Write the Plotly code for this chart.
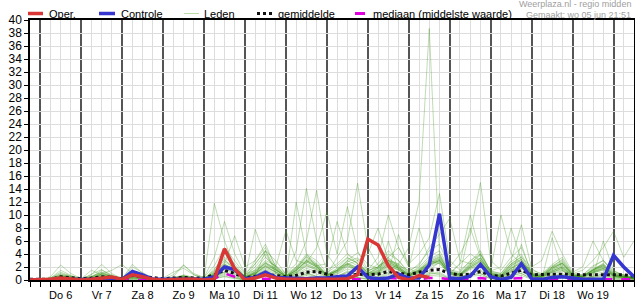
import plotly.graph_objects as go
import pandas as pd

# ---------------- data ----------------
times = pd.date_range("2024-06-05 18:00", "2024-06-20 12:00", freq="6h")

day_labels = ["Do 6", "Vr 7", "Za 8", "Zo 9", "Ma 10", "Di 11", "Wo 12",
              "Do 13", "Vr 14", "Za 15", "Zo 16", "Ma 17", "Di 18", "Wo 19"]
day_label_pos = pd.date_range("2024-06-06 12:00", periods=14, freq="1D")
day_starts = pd.date_range("2024-06-06 00:00", periods=15, freq="1D")

oper = [0, 0, 0.1, 0.3, 0.2, 0.0, 0.1, 0.3, 0.45, 0.1, 0.8, 0.5, 0.1,
        0.0, 0.1, 0.1, 0.1, 0.0, 0.1, 4.8, 1.7, 0.0, 0.3, 0.8, 0.3,
        0.1, 0.1, 0.1, 0.1, 0.0, 0.1, 0.2, 0.8, 6.3, 5.4, 2.2, 0.4,
        0.0, 0.7, 0.4]

controle = [0, 0, 0.1, 0.1, 0.1, 0.0, 0.1, 0.2, 0.1, 0.1, 1.3, 0.8, 0.1,
            0.1, 0.1, 0.1, 0.1, 0.1, 0.5, 2.0, 1.6, 0.2, 0.4, 1.2, 0.4,
            0.3, 0.3, 0.2, 0.3, 0.3, 0.5, 0.6, 2.0, 0.4, 0.2, 0.3, 0.9,
            0.3, 0.3, 2.3, 10.2, 0.3, 0.2, 0.6, 2.4, 0.5, 0.1, 0.4, 2.5,
            0.2, 0.1, 0.4, 0.5, 0.3, 0.1, 0.1, 0.1, 3.8, 2.0, 0.5]

gemiddelde = [0.1, 0.1, 0.1, 0.5, 0.4, 0.2, 0.3, 0.5, 0.4, 0.2, 0.7, 0.5, 0.3,
              0.2, 0.3, 0.4, 0.3, 0.3, 0.8, 1.5, 1.0, 0.3, 0.6, 0.9, 0.7,
              0.5, 0.7, 1.2, 1.3, 0.9, 0.5, 0.6, 0.9, 0.8, 0.9, 1.3, 1.0,
              0.8, 1.2, 1.5, 1.6, 1.0, 0.8, 0.9, 1.3, 0.7, 0.6, 1.0, 1.5,
              0.8, 0.9, 0.9, 0.9, 0.8, 0.8, 0.8, 0.8, 0.9, 0.8, 0.6]

mediaan = [0, 0, 0, 0.1, 0.1, 0, 0, 0.1, 0.1, 0, 0.1, 0.1, 0,
           0, 0, 0.1, 0.1, 0, 0.2, 1.0, 0.5, 0.1, 0.1, 0.2, 0.1,
           0.1, 0.1, 0.2, 0.2, 0.1, 0.1, 0.1, 0.2, 0.1, 0.1, 0.3, 0.2,
           0.1, 0.1, 0.3, 0.3, 0.1, 0.1, 0.2, 0.3, 0.1, 0.1, 0.2, 0.3,
           0.1, 0.1, 0.1, 0.2, 0.1, 0.1, 0.1, 0.2, 0.2, 0.1, 0.1]

leden = [
    [0,0,0.2,0.5,0.3, 0,0.2,0.4,0.3, 0.1,0.5,0.3,0, 0,0.1,0.2,0.1, 0,0.5,1.2,0.6, 0.1,0.8,1.5,0.7, 0.3,1.0,2.2,1.5, 0.4,0.6,1.1,2.0, 1.3,0.8,1.6,2.4, 5.0,12.0,38.7,4.0, 0.8,0.5,1.0,2.2, 0.6,0.3,1.2,1.8, 0.5,0.2,0.8,1.4, 0.4,0.3,0.9,1.2, 0.5,0.4,0.2],
    [0,0,0.5,2.3,1.0, 0.2,0.6,1.2,0.5, 0.3,1.4,0.8,0.1, 0,0.3,0.5,0.2, 0.1,1.8,3.2,1.5, 0.3,2.5,4.5,1.8, 0.6,2.0,3.5,2.2, 0.8,1.5,3.0,4.2, 2.4,1.8,3.5,5.0, 2.5,4.0,6.5,13.3, 3.0,1.5,2.8,4.5, 1.2,0.8,2.5,3.6, 1.0,0.6,1.8,2.5, 0.7,0.5,1.6,2.2, 1.0,0.7,0.3],
    [0,0,0.3,1.2,0.6, 0.1,0.8,2.4,1.0, 0.2,0.7,0.4,0.1, 0,0.2,0.4,0.2, 0.3,11.8,6.0,2.0, 0.5,1.0,2.2,1.2, 0.3,0.8,1.5,0.9, 0.4,0.6,1.2,0.8, 0.5,0.9,1.8,1.1, 0.4,0.7,1.5,2.8, 0.6,0.4,1.0,1.6, 0.5,0.3,0.9,1.3, 0.4,0.2,0.7,1.0, 0.3,0.3,0.6,0.9, 0.4,0.3,0.1],
    [0,0,0.1,0.6,0.4, 0,0.3,0.9,0.6, 0.2,2.4,1.0,0.2, 0,0.2,0.8,0.4, 0.2,1.5,4.0,2.5, 0.6,3.0,5.5,2.0, 0.8,4.5,14.1,6.0, 1.5,2.5,4.0,3.0, 1.0,2.0,3.5,2.0, 0.8,1.5,2.8,3.5, 1.2,0.9,2.0,3.0, 0.8,0.5,1.5,2.0, 0.6,0.4,1.2,1.8, 0.5,0.6,1.4,2.0, 0.8,0.5,0.3],
    [0,0,0.2,0.8,0.5, 0.1,0.4,1.5,0.8, 0.1,1.0,0.6,0.2, 0,0.5,2.3,0.8, 0.4,2.2,5.0,3.0, 0.9,1.5,3.0,2.2, 1.0,2.5,6.0,13.8, 4.0,1.8,2.5,1.5, 0.8,1.2,2.6,1.8, 0.6,1.0,2.2,3.0, 0.9,0.6,1.8,2.4, 0.7,0.4,1.3,1.9, 0.5,0.3,1.0,1.5, 0.4,0.4,1.1,1.6, 0.6,0.4,0.2],
    [0,0,0.1,0.4,0.3, 0,0.2,0.6,0.4, 0.1,0.6,0.4,0.1, 0,0.1,0.3,0.2, 0.1,0.8,2.5,1.6, 0.4,1.2,2.6,1.5, 0.6,1.4,3.0,2.0, 0.8,3.5,6.0,14.9, 5.0,2.2,3.0,2.5, 1.0,1.8,3.2,4.0, 1.5,1.0,2.6,3.8, 1.0,0.6,2.2,3.0, 0.8,0.5,1.6,2.2, 0.7,0.6,1.8,2.4, 1.0,0.6,0.3],
    [0,0,0.2,0.6,0.3, 0.1,0.5,1.0,0.6, 0.2,0.9,0.6,0.2, 0,0.3,0.6,0.3, 0.2,1.0,2.8,1.8, 0.5,1.6,3.5,2.0, 0.7,1.8,3.2,2.4, 0.9,1.6,2.8,3.4, 1.4,2.0,4.0,3.0, 1.2,2.5,4.5,5.5, 2.0,4.0,7.0,15.0, 3.0,1.5,3.5,5.0, 1.2,0.8,2.4,3.5, 1.0,0.8,2.0,3.0, 1.2,0.8,0.4],
    [0,0,0.3,1.5,0.7, 0.2,1.5,0.8,0.3, 0.4,1.2,0.5,0.1, 0.1,0.4,0.7,0.3, 0.2,1.2,3.5,2.2, 0.6,2.0,4.0,1.6, 0.5,1.6,3.8,2.6, 0.7,1.4,2.4,1.8, 1.0,1.8,3.0,2.2, 1.5,2.2,5.0,7.0, 9.5,3.0,2.5,4.0, 1.4,1.0,3.0,8.5, 1.8,0.7,2.0,2.8, 0.8,0.6,1.5,2.6, 0.9,0.6,0.3],
    [0,0,0.1,0.3,0.2, 0,0.2,0.5,0.3, 0.1,0.4,0.3,0.1, 0,0.2,0.4,0.2, 0.1,0.7,2.0,1.4, 0.3,1.0,2.2,1.6, 0.5,1.2,2.6,5.0, 10.5,4.0,11.3,4.5, 1.5,2.0,3.2,2.4, 0.9,1.6,2.6,3.2, 1.0,0.7,1.8,2.6, 0.7,0.5,1.6,2.2, 0.6,0.4,1.2,1.8, 0.5,0.5,1.2,1.7, 0.7,0.5,0.2],
    [0,0,0.2,0.9,0.5, 0.1,0.3,0.7,0.4, 0.2,0.8,0.5,0.1, 0,0.3,0.5,0.3, 0.2,1.4,3.0,2.0, 0.5,7.8,3.5,2.0, 7.6,3.0,2.5,1.8, 0.7,1.4,2.5,1.9, 0.8,1.5,2.7,2.0, 0.8,1.4,2.4,3.0, 1.0,0.8,2.2,3.2, 0.9,0.6,1.8,2.8, 0.8,0.5,1.4,2.0, 0.6,0.5,1.3,1.9, 0.8,0.5,0.3],
    [0,0,0.1,0.5,0.3, 0,0.3,0.8,0.5, 0.1,0.5,0.3,0.1, 0.1,0.8,2.3,1.0, 0.4,3.5,9.0,4.0, 1.0,2.5,4.5,3.0, 0.9,2.0,4.0,3.0, 1.1,2.2,3.5,2.5, 1.2,2.5,4.5,3.0, 1.0,2.0,3.6,4.5, 1.6,1.2,3.0,4.0, 1.3,1.0,2.8,4.0, 1.0,0.8,2.0,3.2, 0.9,0.8,2.2,3.0, 1.1,0.7,0.4],
    [0,0,0,0.2,0.1, 0,0.1,0.3,0.2, 0,0.3,0.2,0, 0,0.1,0.2,0.1, 0,0.4,1.2,0.9, 0.2,0.7,1.6,1.0, 0.3,0.9,1.8,1.3, 0.4,0.9,1.7,1.2, 0.6,1.0,2.0,1.5, 0.6,1.2,2.2,2.8, 1.0,2.5,4.0,3.0, 1.5,10.0,4.0,2.5, 1.5,1.0,2.2,3.0, 0.8,0.6,1.6,2.4, 0.7,0.5,0.2],
    [0,0,0.1,0.7,0.4, 0.1,0.9,1.6,0.6, 0.1,0.6,0.4,0.1, 0,0.2,0.6,0.3, 0.1,0.9,2.2,1.5, 0.4,1.3,2.8,1.7, 0.5,1.5,2.8,2.0, 0.6,1.2,2.2,1.6, 0.7,1.3,2.4,1.8, 0.7,1.3,2.4,3.0, 1.1,0.9,2.4,3.4, 1.0,0.7,2.5,3.5, 2.0,3.0,7.5,4.0, 1.2,2.0,6.0,3.0, 1.4,0.8,0.4],
    [0,0,0.2,0.6,0.4, 0,0.2,0.6,0.3, 0.3,2.0,1.2,0.3, 0,0.2,0.5,0.3, 0.2,1.0,2.4,1.6, 0.5,1.4,2.6,1.8, 0.6,1.6,3.0,2.2, 0.7,1.5,2.6,1.9, 0.8,1.4,2.5,1.8, 0.7,1.5,2.8,3.6, 1.2,0.8,2.2,3.0, 0.8,0.6,2.0,2.8, 0.8,0.6,1.8,2.6, 1.0,1.5,3.0,5.0, 7.5,3.5,6.0],
    [0,0,0.1,0.4,0.2, 0,0.2,0.5,0.3, 0.1,0.4,0.3,0.1, 0,0.2,0.4,0.2, 0.1,0.6,1.8,1.2, 0.3,1.0,2.0,1.3, 0.4,1.1,2.2,1.6, 0.5,1.0,2.0,1.5, 0.6,1.1,2.2,1.6, 0.6,1.2,2.5,3.2, 1.0,2.5,10.0,4.0, 1.4,2.0,8.0,3.0, 1.0,0.7,2.0,2.6, 0.7,0.5,1.5,2.1, 0.6,0.4,0.2],
    [0,0,0.2,0.5,0.3, 0.1,0.3,0.8,0.5, 0.1,0.6,0.4,0.1, 0,0.1,0.3,0.2, 0.1,0.8,2.2,1.4, 0.4,1.1,2.4,1.5, 0.5,1.4,2.8,2.0, 0.7,1.5,3.0,2.2, 1.5,3.5,10.0,5.0, 2.0,8.0,3.0,2.5, 1.0,0.8,2.0,2.8, 0.8,0.6,1.8,2.6, 0.7,0.5,1.4,2.0, 0.6,0.5,1.2,1.8, 0.6,0.4,0.2],
    [0,0,0.3,1.0,0.6, 0.2,0.5,1.2,0.7, 0.2,0.8,0.5,0.1, 0.1,0.3,0.6,0.3, 0.2,1.2,2.6,6.8, 2.0,3.0,5.0,2.2, 0.6,1.8,3.6,2.4, 0.8,1.8,3.4,2.6, 1.0,1.8,3.0,2.2, 0.8,1.6,3.0,3.8, 1.2,0.9,2.4,3.4, 1.0,0.7,2.2,3.2, 0.9,0.6,1.6,2.4, 0.7,0.6,1.5,2.2, 0.8,0.5,0.3],
    [0,0,0.1,0.3,0.2, 0,0.2,0.4,0.3, 0.1,0.3,0.2,0.1, 0,0.1,0.3,0.2, 0.1,0.6,1.6,1.1, 0.3,0.9,1.8,1.2, 0.4,12.0,4.0,2.0, 0.6,1.2,2.2,1.6, 0.6,1.2,2.2,1.6, 0.6,1.1,2.0,2.6, 0.9,0.6,1.6,2.2, 0.6,0.4,1.4,2.0, 0.6,0.4,1.2,1.6, 0.5,0.4,1.1,1.5, 0.5,0.3,0.2],
    [0,0,0.2,0.7,0.4, 0.1,0.4,1.0,0.6, 0.2,0.7,0.5,0.2, 0,0.2,0.5,0.3, 0.2,0.9,2.4,1.5, 0.4,1.2,2.6,1.6, 0.5,1.5,3.0,2.2, 2.5,9.0,4.0,2.5, 0.9,1.6,2.8,2.0, 0.8,1.4,2.6,3.4, 1.2,1.0,8.0,3.5, 1.1,0.8,2.4,3.2, 0.9,0.6,1.8,2.6, 0.8,0.6,1.6,2.3, 0.8,0.5,0.3],
    [0,0,0.1,0.3,0.2, 0.1,0.4,0.9,1.5, 2.4,1.0,0.5,0.2, 0.3,1.2,1.8,0.8, 0.2,0.7,1.9,1.2, 0.3,1.0,2.1,1.3, 0.4,1.2,2.4,1.7, 0.6,1.3,2.4,3.0, 4.0,8.0,3.0,1.8, 0.7,1.3,2.4,3.0, 1.0,0.7,2.0,2.8, 0.8,0.5,1.8,2.5, 0.7,0.5,1.4,2.0, 0.6,0.5,1.3,1.8, 0.6,0.4,0.2],
    [0,0,0,0.2,0.1, 0,0,0.1,0.1, 0,0.2,0.1,0, 0,0,0.1,0, 0,0.3,1.0,0.4, 0,0.5,4.5,1.0, 0.2,0.6,1.2,0.5, 0.1,0.3,0.8,0.4, 0.1,0.5,6.0,1.5, 0.3,0.6,1.2,0.8, 0.2,0.2,0.8,1.0, 0.2,0.1,0.6,5.5, 0.8,0.2,0.5,0.8, 0.2,0.1,0.4,0.7, 0.2,0.1,0],
    [0,0,0,0.1,0.1, 0,0.1,0.2,0.1, 0,0.1,0.1,0, 0,0,0.1,0.1, 0,0.2,0.6,0.3, 0,0.2,0.9,0.4, 0.1,0.4,1.0,0.6, 0.2,0.5,1.4,0.8, 0.3,0.6,1.2,7.0, 2.0,0.5,1.0,1.2, 0.3,0.3,1.0,1.4, 0.3,0.2,0.8,1.0, 0.2,0.2,6.5,1.5, 0.3,0.2,0.6,0.9, 0.3,0.2,0.1],
    [0,0,0,0.1,0, 0,0,0.1,0, 0,0.1,0,0, 0,0,0.1,0, 0,0.2,0.5,0.2, 0,0.1,0.6,0.3, 0,0.2,0.7,0.3, 0.1,0.2,0.6,0.3, 0.1,0.3,0.8,0.4, 0.1,0.3,0.7,0.6, 0.1,0.2,0.6,0.7, 0.2,0.1,0.5,0.7, 0.1,0.1,0.4,0.6, 0.1,0.1,0.4,0.5, 0.1,0.1,0],
    [0,0,0,0.2,0.1, 0,0,0.2,0.1, 0,0.2,0.1,0, 0,0.1,0.2,0.1, 0,0.3,0.8,0.5, 0.1,0.3,1.0,0.5, 0.1,0.3,0.9,0.5, 0.1,0.3,0.8,0.4, 0.2,0.4,1.0,0.6, 0.2,0.4,0.9,1.0, 0.2,0.2,0.8,1.0, 0.2,0.2,0.7,1.0, 0.2,0.1,0.6,0.8, 0.2,0.1,0.6,6.0, 1.5,0.5,0.2],
]

y_ticks = list(range(0, 41, 2))

# ---------------- styles ----------------
FONT = "Liberation Sans, Arial, sans-serif"
C_OPER = "#d93636"
C_CTRL = "#3535d0"
C_LEDEN = "rgba(60,150,25,0.33)"
C_LEDEN_LEG = "#b9dcaa"
C_MEAN = "#111111"
C_MED = "#e000e0"

W, H = 635, 300
ML, MR, MT, MB = 30, 1, 20, 20
PW, PH = W - ML - MR, H - MT - MB


def px(x):
    return (x - ML) / PW


def py(y):
    return (H - MB - y) / PH


fig = go.Figure()

for m in leden:
    fig.add_trace(go.Scatter(x=times[:len(m)], y=m, mode="lines",
                             line=dict(color=C_LEDEN, width=1),
                             showlegend=False, hoverinfo="skip"))

fig.add_trace(go.Scatter(x=times, y=mediaan, mode="lines",
                         line=dict(color=C_MED, width=2.5, dash="dash"),
                         showlegend=False))
fig.add_trace(go.Scatter(x=times, y=gemiddelde, mode="lines",
                         line=dict(color=C_MEAN, width=3, dash="3px,3px"),
                         showlegend=False))
fig.add_trace(go.Scatter(x=times, y=controle, mode="lines",
                         line=dict(color=C_CTRL, width=3.5),
                         showlegend=False))
fig.add_trace(go.Scatter(x=times[:len(oper)], y=oper, mode="lines",
                         line=dict(color=C_OPER, width=3.5),
                         showlegend=False))
# invisible trace to bind the label axis
fig.add_trace(go.Scatter(x=[times[0], times[-1]], y=[None, None], xaxis="x2",
                         mode="lines", showlegend=False, hoverinfo="skip"))

shapes = []
annotations = []

# manual legend
legend_items = [
    ("Oper.", 28, 43, 47, dict(color=C_OPER, width=3.5)),
    ("Controle", 99, 115, 119, dict(color=C_CTRL, width=3.5)),
    ("Leden", 184, 199, 202, dict(color=C_LEDEN_LEG, width=1)),
    ("gemiddelde", 257, 272, 276, dict(color=C_MEAN, width=3, dash="3px,3px")),
    ("mediaan (middelste waarde)", 355, 368, 371,
     dict(color=C_MED, width=3, dash="10px,3px,2px,3px")),
]
LY = 13.5
for label, x0, x1, xt, ln in legend_items:
    shapes.append(dict(type="line", xref="paper", yref="paper",
                       x0=px(x0), x1=px(x1), y0=py(LY), y1=py(LY), line=ln))
    annotations.append(dict(text=label, xref="paper", yref="paper",
                            x=px(xt), y=py(LY), xanchor="left", yanchor="middle",
                            showarrow=False,
                            font=dict(family=FONT, size=11, color="#000000")))

annotations.append(dict(text="Weerplaza.nl - regio midden", xref="paper", yref="paper",
                        x=px(633), y=py(4.5), xanchor="right", yanchor="middle",
                        showarrow=False, font=dict(family=FONT, size=9, color="#a0a0a0")))
annotations.append(dict(text="Gemaakt: wo 05 jun 21:51", xref="paper", yref="paper",
                        x=px(633), y=py(14.5), xanchor="right", yanchor="middle",
                        showarrow=False, font=dict(family=FONT, size=9, color="#a0a0a0")))

fig.update_layout(
    width=W, height=H,
    margin=dict(l=ML, r=MR, t=MT, b=MB, pad=0, autoexpand=False),
    paper_bgcolor="white", plot_bgcolor="white",
    showlegend=False,
    shapes=shapes, annotations=annotations,
    font=dict(family=FONT, size=12, color="#000000"),
    xaxis=dict(
        type="date", automargin=False,
        range=[times[0], times[-1]],
        tickmode="array", tickvals=day_starts, ticktext=[""] * len(day_starts),
        ticks="outside", ticklen=5, tickcolor="#000000",
        showgrid=True, gridcolor="#555555", gridwidth=1.5,
        minor=dict(dtick=6 * 3600 * 1000, tick0=times[0], showgrid=True,
                   gridcolor="#dddddd", gridwidth=1,
                   ticks="outside", ticklen=5, tickcolor="#000000"),
        showline=True, linecolor="#000000", linewidth=1.5, mirror=True,
        zeroline=False,
    ),
    xaxis2=dict(
        type="date", automargin=False, overlaying="x", anchor="y", side="bottom",
        range=[times[0], times[-1]],
        tickmode="array", tickvals=day_label_pos, ticktext=day_labels,
        ticks="outside", ticklen=5, tickcolor="rgba(0,0,0,0)",
        showgrid=False, showline=False, zeroline=False,
        tickfont=dict(family=FONT, size=11, color="#000000"),
    ),
    yaxis=dict(
        automargin=False,
        range=[0, 40], tickmode="array", tickvals=y_ticks,
        ticks="outside", ticklen=4, tickcolor="#000000",
        showgrid=True, gridcolor="#dddddd", gridwidth=1,
        showline=True, linecolor="#000000", linewidth=1.5, mirror=True,
        tickfont=dict(family=FONT, size=12, color="#000000"),
        zeroline=False,
    ),
)

fig.write_html("out.html")
